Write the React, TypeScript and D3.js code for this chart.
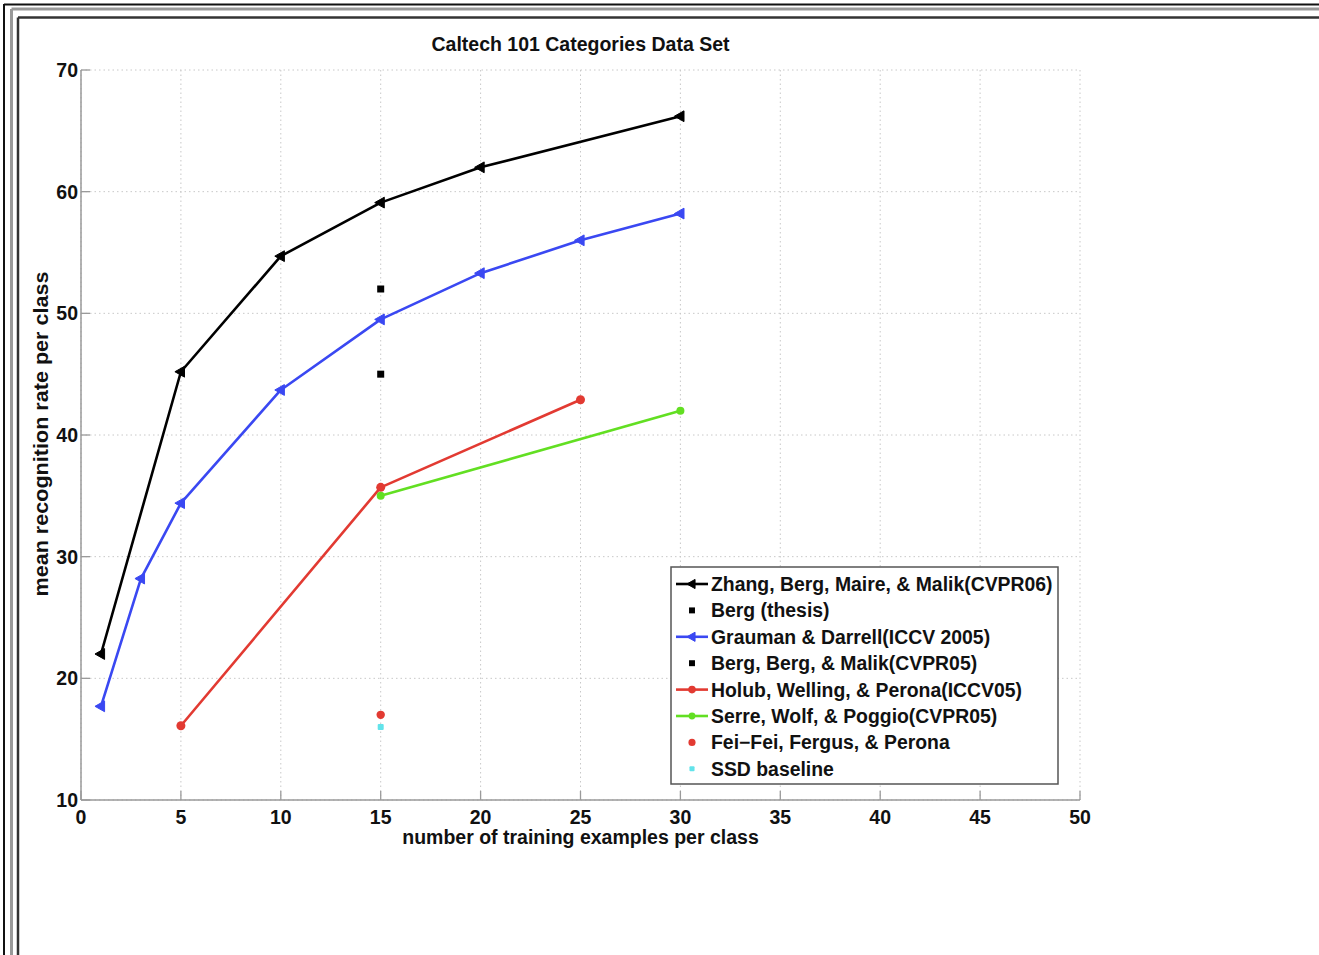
import React from "react";
import * as d3 from "d3";

const title = "Caltech 101 Categories Data Set";
const xLabel = "number of training examples per class";
const yLabel = "mean recognition rate per class";

const xTicks = [0, 5, 10, 15, 20, 25, 30, 35, 40, 45, 50];
const yTicks = [10, 20, 30, 40, 50, 60, 70];

const zhangX = [1, 5, 10, 15, 20, 30];
const zhangY = [22, 45.2, 54.7, 59.1, 62, 66.2];
const bergThesisX = [15];
const bergThesisY = [52];
const graumanX = [1, 3, 5, 10, 15, 20, 25, 30];
const graumanY = [17.7, 28.2, 34.4, 43.7, 49.5, 53.3, 56, 58.2];
const bergBergX = [15];
const bergBergY = [45];
const holubX = [5, 15, 25];
const holubY = [16.1, 35.7, 42.9];
const serreX = [15, 30];
const serreY = [35, 42];
const feifeiX = [15];
const feifeiY = [17];
const ssdX = [15];
const ssdY = [16];

type Marker = "ltri" | "square" | "circle" | "dot";
interface Series {
  name: string;
  xs: number[];
  ys: number[];
  color: string;
  line: boolean;
  marker: Marker;
  size: number;
}

const series: Series[] = [
  { name: "Zhang, Berg, Maire, & Malik(CVPR06)", xs: zhangX, ys: zhangY, color: "#000000", line: true, marker: "ltri", size: 6 },
  { name: "Berg (thesis)", xs: bergThesisX, ys: bergThesisY, color: "#000000", line: false, marker: "square", size: 3.5 },
  { name: "Grauman & Darrell(ICCV 2005)", xs: graumanX, ys: graumanY, color: "#3a48f2", line: true, marker: "ltri", size: 6 },
  { name: "Berg, Berg, & Malik(CVPR05)", xs: bergBergX, ys: bergBergY, color: "#000000", line: false, marker: "square", size: 3.5 },
  { name: "Holub, Welling, & Perona(ICCV05)", xs: holubX, ys: holubY, color: "#e23a32", line: true, marker: "circle", size: 4.5 },
  { name: "Serre, Wolf, & Poggio(CVPR05)", xs: serreX, ys: serreY, color: "#62df22", line: true, marker: "circle", size: 4 },
  { name: "Fei\u2212Fei, Fergus, & Perona", xs: feifeiX, ys: feifeiY, color: "#e23a32", line: false, marker: "circle", size: 4.2 },
  { name: "SSD baseline", xs: ssdX, ys: ssdY, color: "#62e3ea", line: false, marker: "dot", size: 3 },
];

const W = 1319;
const H = 955;
const left = 81;
const right = 1080;
const top = 70;
const bottom = 800;
const FONT = "'Liberation Sans', Arial, Helvetica, sans-serif";

function MarkerShape({ type, x, y, size, color }: { type: Marker; x: number; y: number; size: number; color: string }) {
  if (type === "ltri") {
    const s = size;
    const p = `M${x - s},${y} L${x + s * 0.6},${y - s * 0.9} L${x + s * 0.6},${y + s * 0.9} Z`;
    return <path d={p} fill={color} stroke={color} strokeWidth={1} />;
  }
  if (type === "square") {
    return <rect x={x - size} y={y - size} width={size * 2} height={size * 2} fill={color} />;
  }
  if (type === "dot") {
    return <rect x={x - size} y={y - size} width={size * 2} height={size * 2} rx={1} fill={color} />;
  }
  return <circle cx={x} cy={y} r={size} fill={color} />;
}

export default function App() {
  const x = d3.scaleLinear().domain([0, 50]).range([left, right]);
  const y = d3.scaleLinear().domain([10, 70]).range([bottom, top]);
  const line = d3
    .line<[number, number]>()
    .x((d) => x(d[0]))
    .y((d) => y(d[1]));

  const legX = 671;
  const legY = 567;
  const legW = 387;
  const legH = 217;
  const rowH = 26.4;
  const row0 = 584;

  return (
    <svg
      width={W}
      height={H}
      style={{ position: "absolute", left: 0, top: 0, background: "#fff" }}
      fontFamily={FONT}
    >
      {/* page frame */}
      <line x1={4} y1={4.5} x2={W} y2={4.5} stroke="#111" strokeWidth={2} />
      <line x1={4} y1={4} x2={4} y2={H} stroke="#111" strokeWidth={2} />
      <line x1={11.5} y1={9} x2={W} y2={9} stroke="#999" strokeWidth={3} />
      <line x1={11.5} y1={9} x2={11.5} y2={H} stroke="#999" strokeWidth={3} />
      <line x1={18} y1={17.5} x2={W} y2={17.5} stroke="#333" strokeWidth={2.5} />
      <line x1={18} y1={17.5} x2={18} y2={H} stroke="#333" strokeWidth={2.5} />

      {/* grid */}
      {xTicks.map((t) => (
        <line key={"gx" + t} x1={x(t)} x2={x(t)} y1={top} y2={bottom} stroke="#c8c8c8" strokeWidth={1} strokeDasharray="1.5,3" />
      ))}
      {yTicks.map((t) => (
        <line key={"gy" + t} x1={left} x2={right} y1={y(t)} y2={y(t)} stroke="#c8c8c8" strokeWidth={1} strokeDasharray="1.5,3" />
      ))}

      {/* axes */}
      <line x1={left} x2={left} y1={top} y2={bottom} stroke="#9a9a9a" strokeWidth={1.5} />
      <line x1={left} x2={right} y1={bottom} y2={bottom} stroke="#9a9a9a" strokeWidth={1.5} />
      {xTicks.map((t) => (
        <line key={"tx" + t} x1={x(t)} x2={x(t)} y1={bottom} y2={bottom - 9} stroke="#9a9a9a" strokeWidth={1.3} />
      ))}
      {yTicks.map((t) => (
        <line key={"ty" + t} x1={left} x2={left + 9} y1={y(t)} y2={y(t)} stroke="#9a9a9a" strokeWidth={1.3} />
      ))}

      {/* tick labels */}
      {xTicks.map((t) => (
        <text key={"lx" + t} x={x(t)} y={824} textAnchor="middle" fontSize={19.5} fontWeight="bold" fill="#111">
          {t}
        </text>
      ))}
      {yTicks.map((t) => (
        <text key={"ly" + t} x={78} y={y(t) + 7} textAnchor="end" fontSize={19.5} fontWeight="bold" fill="#111">
          {t}
        </text>
      ))}

      {/* titles */}
      <text x={(left + right) / 2} y={51} textAnchor="middle" fontSize={19.5} fontWeight="bold" fill="#111">
        {title}
      </text>
      <text x={(left + right) / 2} y={844} textAnchor="middle" fontSize={19.5} fontWeight="bold" fill="#111">
        {xLabel}
      </text>
      <text
        transform={`translate(48, ${434}) rotate(-90)`}
        textAnchor="middle"
        fontSize={20}
        fontWeight="bold"
        fill="#111"
        textLength={325}
        lengthAdjust="spacingAndGlyphs"
      >
        {yLabel}
      </text>

      {/* series */}
      {series.map((s, i) => {
        const pts: [number, number][] = s.xs.map((v, k) => [v, s.ys[k]]);
        return (
          <g key={"s" + i}>
            {s.line && <path d={line(pts) || ""} fill="none" stroke={s.color} strokeWidth={2.6} strokeLinejoin="round" />}
            {pts.map((p, k) => (
              <MarkerShape key={k} type={s.marker} x={x(p[0])} y={y(p[1])} size={s.size} color={s.color} />
            ))}
          </g>
        );
      })}

      {/* legend */}
      <rect x={legX} y={legY} width={legW} height={legH} fill="#fff" stroke="#555" strokeWidth={1.5} />
      {series.map((s, i) => {
        const cy = row0 + i * rowH;
        return (
          <g key={"lg" + i}>
            {s.line && <line x1={676} x2={708} y1={cy} y2={cy} stroke={s.color} strokeWidth={2.6} />}
            <MarkerShape type={s.marker} x={692} y={cy} size={s.size * 0.85} color={s.color} />
            <text x={711} y={cy + 7} fontSize={19.4} fontWeight="bold" fill="#111">
              {s.name}
            </text>
          </g>
        );
      })}
    </svg>
  );
}
